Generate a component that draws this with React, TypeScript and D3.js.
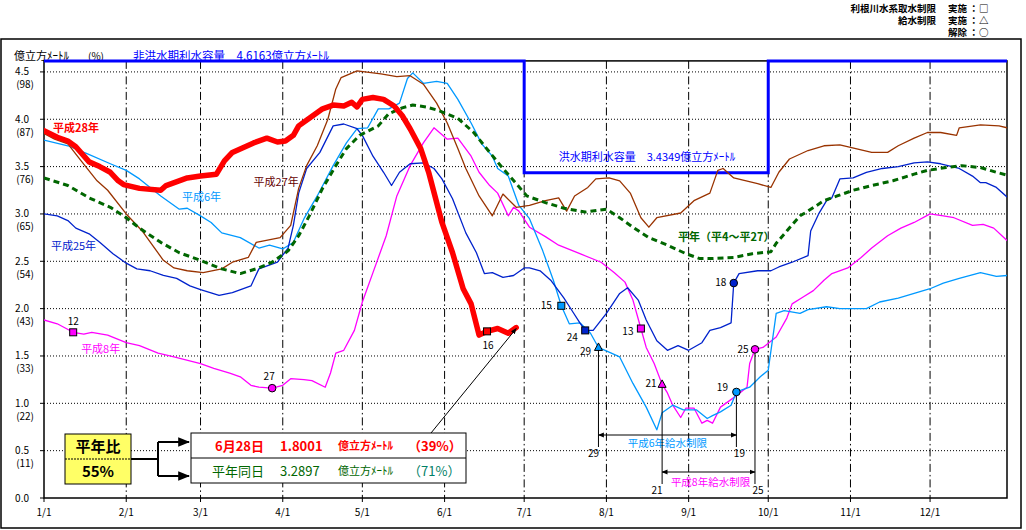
import * as d3 from "d3";

// ---- data (day index from 1/1, value in 億m3) ----
const monthLabels = ["1/1", "2/1", "3/1", "4/1", "5/1", "6/1", "7/1", "8/1", "9/1", "10/1", "11/1", "12/1"];
const monthStartDays = [0, 31, 59, 90, 120, 151, 181, 212, 243, 273, 304, 334];
const yTickValues = [0, 0.5, 1, 1.5, 2, 2.5, 3, 3.5, 4, 4.5];
const yTickPercents = ["", "(11)", "(22)", "(33)", "(43)", "(54)", "(65)", "(76)", "(87)", "(98)"];

const capacityDays = [0, 181, 181, 273, 273, 363];
const capacityValues = [4.6163, 4.6163, 3.4349, 3.4349, 4.6163, 4.6163];

const h28: [number, number][] = [
  [0, 3.88], [5, 3.81], [9, 3.77], [12, 3.71], [17, 3.55], [21, 3.5], [25, 3.44], [28, 3.35], [30, 3.31],
  [36, 3.27], [44, 3.25], [46, 3.3], [54, 3.38], [59, 3.4], [65, 3.42], [68, 3.56], [71, 3.65], [79, 3.75],
  [84, 3.8], [88, 3.76], [91, 3.77], [94, 3.83], [96, 3.93], [100, 4.01], [105, 4.11], [109, 4.15],
  [113, 4.14], [116, 4.18], [118, 4.13], [120, 4.21], [124, 4.23], [128, 4.21], [132, 4.14], [135, 4.04],
  [138, 3.9], [142, 3.69], [145, 3.44], [150, 2.91], [154, 2.59], [158, 2.21], [161, 2.05], [164, 1.72],
  [167, 1.76], [171, 1.79], [175, 1.74], [178, 1.8],
];

const h27: [number, number][] = [
  [0, 3.85], [4, 3.79], [9, 3.74], [14, 3.56], [20, 3.35], [24, 3.25], [31, 3.0], [37, 2.82], [45, 2.51],
  [49, 2.43], [54, 2.4], [60, 2.38], [67, 2.42], [71, 2.49], [77, 2.54], [80, 2.7], [89, 2.75], [93, 2.88],
  [96, 3.27], [99, 3.51], [103, 3.72], [107, 4.0], [110, 4.32], [112, 4.44], [118, 4.51], [127, 4.48],
  [133, 4.45], [138, 4.46], [143, 4.37], [148, 4.17], [152, 3.96], [156, 3.69], [159, 3.48], [164, 3.19],
  [169, 2.98], [173, 3.21], [178, 3.07], [183, 3.09], [189, 3.14], [194, 3.17], [197, 3.03], [200, 3.19],
  [205, 3.28], [208, 3.37], [213, 3.38], [217, 3.35], [221, 3.22], [225, 2.96], [228, 2.86], [231, 2.96],
  [240, 3.01], [245, 3.14], [251, 3.22], [254, 3.46], [256, 3.48], [260, 3.38], [269, 3.32], [274, 3.28],
  [277, 3.44], [281, 3.58], [288, 3.67], [294, 3.72], [300, 3.73], [306, 3.69], [312, 3.65], [318, 3.65],
  [322, 3.72], [328, 3.8], [333, 3.86], [338, 3.86], [344, 3.83], [345, 3.91], [353, 3.94], [360, 3.93],
  [363, 3.91],
];

const h6: [number, number][] = [
  [0, 3.78], [9, 3.72], [16, 3.64], [25, 3.53], [31, 3.46], [36, 3.37], [44, 3.19], [51, 3.05], [54, 3.06],
  [59, 2.98], [63, 2.91], [67, 2.8], [74, 2.75], [81, 2.64], [85, 2.67], [90, 2.63], [94, 2.7], [98, 2.95],
  [103, 3.19], [109, 3.51], [114, 3.75], [118, 3.9], [122, 3.91], [126, 4.11], [130, 4.11], [134, 4.17],
  [137, 4.43], [139, 4.49], [143, 4.38], [148, 4.4], [152, 4.38], [156, 4.21], [161, 3.96], [165, 3.74],
  [169, 3.61], [171, 3.48], [175, 3.4], [179, 3.09], [183, 2.95], [188, 2.61], [192, 2.3], [195, 2.03],
  [198, 1.84], [202, 1.85], [206, 1.74], [209, 1.59], [213, 1.54], [217, 1.49], [222, 1.21], [227, 0.96],
  [231, 0.72], [233, 0.9], [237, 0.98], [241, 0.93], [246, 0.93], [250, 0.84], [252, 0.87], [255, 0.91],
  [259, 0.98], [261, 1.12], [266, 1.17], [270, 1.28], [273, 1.35], [276, 1.95], [279, 1.98], [285, 1.95],
  [288, 1.99], [295, 2.02], [300, 2.0], [310, 2.0], [315, 2.07], [322, 2.11], [328, 2.16], [334, 2.21],
  [339, 2.27], [345, 2.32], [353, 2.38], [359, 2.34], [363, 2.35],
];

const h25: [number, number][] = [
  [0, 3.0], [5, 2.98], [9, 2.93], [12, 2.85], [17, 2.79], [21, 2.7], [26, 2.58], [31, 2.48], [35, 2.42],
  [40, 2.4], [45, 2.35], [50, 2.32], [55, 2.24], [59, 2.2], [66, 2.14], [71, 2.17], [78, 2.24], [81, 2.42],
  [88, 2.49], [92, 2.64], [94, 2.88], [96, 3.22], [99, 3.48], [104, 3.65], [109, 3.93], [113, 3.95],
  [118, 3.9], [120, 3.83], [124, 3.61], [128, 3.44], [131, 3.3], [134, 3.44], [138, 3.53], [143, 3.54],
  [147, 3.48], [150, 3.37], [154, 3.16], [159, 2.8], [163, 2.59], [166, 2.37], [169, 2.38], [173, 2.33],
  [177, 2.35], [181, 2.43], [183, 2.43], [187, 2.4], [191, 2.3], [196, 2.11], [199, 1.98], [202, 1.85],
  [204, 1.77], [207, 1.77], [212, 1.95], [217, 2.16], [220, 2.22], [224, 2.09], [227, 1.88], [231, 1.66],
  [235, 1.56], [239, 1.61], [243, 1.56], [248, 1.64], [251, 1.77], [255, 1.8], [259, 1.85], [260, 2.27],
  [262, 2.37], [269, 2.4], [274, 2.4], [277, 2.44], [282, 2.49], [288, 2.56], [289, 2.82], [292, 3.0],
  [295, 3.14], [297, 3.17], [300, 3.37], [305, 3.38], [310, 3.44], [316, 3.48], [322, 3.5], [328, 3.54],
  [333, 3.55], [338, 3.53], [345, 3.48], [350, 3.4], [353, 3.33], [355, 3.33], [359, 3.28], [363, 3.18],
];

const h8: [number, number][] = [
  [0, 1.88], [5, 1.84], [11, 1.75], [15, 1.73], [18, 1.75], [24, 1.72], [31, 1.64], [36, 1.61], [43, 1.53],
  [49, 1.49], [59, 1.42], [64, 1.37], [70, 1.32], [74, 1.28], [78, 1.19], [81, 1.17], [86, 1.16], [90, 1.19],
  [93, 1.26], [98, 1.25], [101, 1.24], [106, 1.17], [108, 1.32], [110, 1.53], [113, 1.56], [117, 1.77],
  [120, 2.07], [124, 2.38], [129, 2.77], [133, 3.19], [138, 3.51], [143, 3.75], [147, 3.91], [152, 3.79],
  [156, 3.8], [161, 3.61], [164, 3.44], [168, 3.3], [171, 3.22], [175, 2.98], [177, 3.07], [179, 3.03],
  [183, 2.86], [189, 2.76], [194, 2.67], [202, 2.58], [210, 2.49], [215, 2.38], [219, 2.28], [222, 2.09],
  [225, 1.79], [227, 1.59], [230, 1.42], [233, 1.2], [235, 1.11], [237, 0.98], [240, 0.85], [242, 0.95],
  [245, 0.95], [248, 0.79], [250, 0.82], [252, 0.79], [255, 0.96], [260, 1.06], [265, 1.17], [266, 1.42],
  [268, 1.57], [271, 1.59], [276, 1.7], [280, 1.9], [282, 2.05], [286, 2.12], [290, 2.19], [294, 2.3],
  [297, 2.37], [303, 2.43], [308, 2.54], [312, 2.64], [318, 2.77], [323, 2.85], [328, 2.91], [334, 3.0],
  [339, 2.98], [343, 2.96], [350, 2.88], [354, 2.89], [358, 2.85], [363, 2.72],
];

const normalYear: [number, number][] = [
  [0, 3.38], [9, 3.3], [17, 3.17], [25, 3.07], [31, 2.96], [36, 2.85], [44, 2.7], [51, 2.59], [59, 2.51],
  [67, 2.42], [74, 2.37], [80, 2.42], [86, 2.49], [92, 2.61], [96, 2.77], [100, 2.98], [105, 3.27],
  [110, 3.51], [114, 3.69], [119, 3.83], [126, 3.93], [130, 4.06], [135, 4.12], [139, 4.15], [144, 4.13],
  [149, 4.09], [156, 4.01], [162, 3.86], [168, 3.65], [173, 3.48], [178, 3.32], [182, 3.19], [189, 3.12],
  [196, 3.06], [204, 3.02], [212, 3.05], [217, 2.96], [222, 2.86], [228, 2.75], [235, 2.67], [242, 2.58],
  [247, 2.53], [252, 2.53], [260, 2.54], [267, 2.58], [274, 2.6], [276, 2.69], [280, 2.82], [285, 2.98],
  [288, 3.03], [294, 3.14], [299, 3.19], [305, 3.25], [312, 3.3], [320, 3.35], [328, 3.42], [333, 3.46],
  [340, 3.49], [346, 3.51], [353, 3.49], [359, 3.44], [363, 3.41],
];

// [series, day, kind, label]
const limitMarkers: [string, number, string, string][] = [
  ["h8", 11, "square", "12"],
  ["h8", 86, "circle", "27"],
  ["h28", 167, "square", "16"],
  ["h6", 195, "square", "15"],
  ["h25", 204, "square", "24"],
  ["h6", 209, "triangle", "29"],
  ["h8", 225, "square", "13"],
  ["h8", 233, "triangle", "21"],
  ["h25", 260, "circle", "18"],
  ["h6", 261, "circle", "19"],
  ["h8", 268, "circle", "25"],
];

const supplyLimits = [
  { name: "平成6年給水制限", series: "h6", start: 209, end: 261, startText: "29", endText: "19" },
  { name: "平成8年給水制限", series: "h8", start: 233, end: 268, startText: "21", endText: "25" },
];

// legend rows: [restriction, state, symbol]
const legendRows: [string, string, string][] = [
  ["利根川水系取水制限", "実施", "□"],
  ["給水制限", "実施", "△"],
  ["", "解除", "○"],
];

const FONT = "'Noto Sans CJK JP', 'Noto Sans', sans-serif";
const W = 1026;
const H = 530;

const x = d3.scaleLinear().domain([0, 363]).range([44, 1007]);
const y = d3.scaleLinear().domain([0, 4.6163]).range([498, 60.9]);

const seriesDefs = [
  { key: "h8", data: h8, color: "#ff00ff", width: 1.3, dash: "" },
  { key: "h6", data: h6, color: "#0099ff", width: 1.3, dash: "" },
  { key: "h25", data: h25, color: "#0022cc", width: 1.3, dash: "" },
  { key: "h27", data: h27, color: "#993300", width: 1.3, dash: "" },
  { key: "normal", data: normalYear, color: "#006600", width: 3, dash: "6,4" },
  { key: "h28", data: h28, color: "#ff0000", width: 5.5, dash: "" },
];

const seriesByKey: Record<string, [number, number][]> = { h8, h6, h25, h27, h28, normal: normalYear };
const colorByKey: Record<string, string> = {
  h8: "#ff00ff", h6: "#0099ff", h25: "#0022cc", h28: "#ff0000",
};

function valueAt(data: [number, number][], day: number) {
  for (let i = 1; i < data.length; i++) {
    if (data[i][0] >= day) {
      const [d0, v0] = data[i - 1];
      const [d1, v1] = data[i];
      return v0 + ((v1 - v0) * (day - d0)) / (d1 - d0 || 1);
    }
  }
  return data[data.length - 1][1];
}

// where the day number sits next to its marker
const markerLabelOffset: Record<string, [number, number]> = {
  "12": [0, -11], "27": [-3, -12], "16": [1, 14], "15": [-15, 0], "24": [-13, 7], "29": [-13, 4],
  "13": [-13, 3], "21": [-11, -1], "18": [-13, -1], "19": [-14, -4], "25": [-12, 0],
};

function Marker({ kind, cx, cy, fill }: { kind: string; cx: number; cy: number; fill: string }) {
  if (kind === "square") return <rect x={cx - 3.5} y={cy - 3.5} width={7} height={7} fill={fill} stroke="#000" strokeWidth={1} />;
  if (kind === "circle") return <circle cx={cx} cy={cy} r={3.8} fill={fill} stroke="#000" strokeWidth={1} />;
  return <path d={`M${cx},${cy - 4.5}L${cx + 4},${cy + 3}L${cx - 4},${cy + 3}Z`} fill={fill} stroke="#000" strokeWidth={1} />;
}

export default function App() {
  const line = d3.line<[number, number]>().x((d) => x(d[0])).y((d) => y(d[1]));
  const capacityPath = d3.line<number>().x((d) => x(d)).y((_, i) => y(capacityValues[i]))(capacityDays) || "";
  const left = x(0);
  const right = x(363);
  const top = y(4.6163);
  const bottom = y(0);
  const lastRed = h28[h28.length - 1];

  return (
    <div style={{ width: W, height: H }}>
      <style>{"body{margin:0;background:#fff}"}</style>
      <svg width={W} height={H} style={{ display: "block", fontFamily: FONT }}>
        <defs>
          <marker id="arrowEnd" viewBox="0 0 10 10" refX="9" refY="5" markerWidth="6" markerHeight="6" orient="auto-start-reverse">
            <path d="M0,1L10,5L0,9Z" fill="#000" />
          </marker>
          <clipPath id="plotClip">
            <rect x={left} y={top - 3} width={right - left} height={bottom - top + 3} />
          </clipPath>
        </defs>
        <rect width={W} height={H} fill="#fff" />
        <rect x={1} y={39} width={1020} height={489} fill="none" stroke="#000" strokeWidth={1.5} />

        {/* top-right legend */}
        <g fontSize={9.5} fontWeight={700} fill="#000">
          {legendRows.map(([what, state, sym], i) => (
            <g key={i}>
              <text x={936} y={12 + i * 12} textAnchor="end">{what}</text>
              <text x={948} y={12 + i * 12}>{state}</text>
              <text x={969} y={12 + i * 12}>：</text>
              <text x={979} y={12 + i * 12}>{sym}</text>
            </g>
          ))}
        </g>

        {/* headers */}
        <text x={14} y={60} fontSize={11} fill="#000">億立方ﾒｰﾄﾙ</text>
        <text x={88} y={60} fontSize={10} fill="#000">(%)</text>
        <text x={133} y={60} fontSize={11.5} fill="#0000ff">非洪水期利水容量　4.6163億立方ﾒｰﾄﾙ</text>

        {/* grid */}
        {yTickValues.slice(1).map((v) => (
          <line key={v} x1={left} x2={right} y1={y(v)} y2={y(v)} stroke="#000" strokeWidth={1} strokeDasharray="1,2" />
        ))}
        {monthStartDays.slice(1).map((d) => (
          <line key={d} x1={x(d)} x2={x(d)} y1={top} y2={bottom} stroke="#000" strokeWidth={1} strokeDasharray="8,3,1.5,3" />
        ))}

        {/* axes frame */}
        <rect x={left} y={top} width={right - left} height={bottom - top} fill="none" stroke="#000" strokeWidth={1.5} />

        {/* y labels */}
        {yTickValues.map((v, i) => (
          <g key={v}>
            <line x1={left - 4} x2={left} y1={y(v)} y2={y(v)} stroke="#000" />
            <text x={29} y={y(v)} dy="0.35em" fontSize={10} textAnchor="end">{v.toFixed(1)}</text>
            {yTickPercents[i] && (
              <text x={34} y={y(v) + 13} dy="0.35em" fontSize={10} textAnchor="end">{yTickPercents[i]}</text>
            )}
          </g>
        ))}

        {/* x labels */}
        {monthStartDays.map((d, i) => (
          <g key={d}>
            <line x1={x(d)} x2={x(d)} y1={bottom} y2={bottom + 4} stroke="#000" />
            <text x={x(d)} y={516} fontSize={10} textAnchor="middle">{monthLabels[i]}</text>
          </g>
        ))}

        {/* storage capacity */}
        <path d={capacityPath} fill="none" stroke="#0000ff" strokeWidth={3} />
        <text x={x(194)} y={y(3.6)} dy="0.35em" fontSize={11} fill="#0000ff">洪水期利水容量　3.4349億立方ﾒｰﾄﾙ</text>

        {/* series */}
        <g clipPath="url(#plotClip)">
          {seriesDefs.map((s) => (
            <path key={s.key} d={line(s.data) || ""} fill="none" stroke={s.color} strokeWidth={s.width}
              strokeDasharray={s.dash || undefined} strokeLinejoin="round" strokeLinecap={s.dash ? "butt" : "round"} />
          ))}
        </g>

        {/* series labels */}
        <g fontSize={11}>
          <text x={x(3.4)} y={y(3.91)} dy="0.35em" fill="#ff0000" fontWeight={700}>平成28年</text>
          <text x={x(79)} y={y(3.34)} dy="0.35em" fill="#660000">平成27年</text>
          <text x={x(52)} y={y(3.18)} dy="0.35em" fill="#0099ff">平成6年</text>
          <text x={x(2.6)} y={y(2.66)} dy="0.35em" fill="#0022cc">平成25年</text>
          <text x={x(14)} y={y(1.57)} dy="0.35em" fill="#ff00ff">平成8年</text>
          <text x={x(239)} y={y(2.75)} dy="0.35em" fill="#006600" fontWeight={700}>平年（平4～平27）</text>
        </g>

        {/* supply restriction periods */}
        {supplyLimits.map((p, i) => {
          const data = seriesByKey[p.series];
          const ay = [435, 472][i];
          const xs = x(p.start);
          const xe = x(p.end);
          const color = colorByKey[p.series];
          return (
            <g key={p.name}>
              <line x1={xs} x2={xs} y1={y(valueAt(data, p.start))} y2={ay + 12} stroke="#000" />
              <line x1={xe} x2={xe} y1={y(valueAt(data, p.end))} y2={ay + 12} stroke="#000" />
              <line x1={xs} x2={xe} y1={ay} y2={ay} stroke="#000" markerStart="url(#arrowEnd)" markerEnd="url(#arrowEnd)" />
              <text x={(xs + xe) / 2 + [0, 2][i]} y={ay + [8, 10][i]} dy="0.35em" fontSize={10.5} textAnchor="middle" fill={color}>{p.name}</text>
              <text x={xs - 5} y={ay + 18} dy="0.35em" fontSize={10} textAnchor="middle">{p.startText}</text>
              <text x={xe + 3} y={ay + 18} dy="0.35em" fontSize={10} textAnchor="middle">{p.endText}</text>
            </g>
          );
        })}

        {/* restriction markers */}
        {limitMarkers.map(([key, day, kind, label]) => {
          const cx = x(day);
          const cy = y(valueAt(seriesByKey[key], day));
          const [dx, dy] = markerLabelOffset[label];
          return (
            <g key={key + day}>
              <Marker kind={kind} cx={cx} cy={cy} fill={colorByKey[key]} />
              <text x={cx + dx} y={cy + dy} dy="0.35em" fontSize={10} textAnchor="middle">{label}</text>
            </g>
          );
        })}

        {/* leader to latest value */}
        <line x1={431} y1={433} x2={x(lastRed[0])} y2={y(lastRed[1]) + 1} stroke="#000" strokeWidth={1} markerEnd="url(#arrowEnd)" />

        {/* ratio box */}
        <rect x={65} y={434} width={66} height={50} fill="#ffff66" stroke="#000" strokeWidth={1} />
        <line x1={65} x2={131} y1={459} y2={459} stroke="#000" strokeDasharray="2,1" />
        <text x={98} y={447} dy="0.35em" fontSize={15} fontWeight={700} textAnchor="middle">平年比</text>
        <text x={98} y={472} dy="0.35em" fontSize={15} fontWeight={700} textAnchor="middle">55%</text>
        <path d="M131,459H158M158,442V476" stroke="#000" strokeWidth={2} fill="none" />
        <line x1={158} x2={189} y1={442} y2={442} stroke="#000" strokeWidth={2} markerEnd="url(#arrowEnd)" />
        <line x1={158} x2={189} y1={476} y2={476} stroke="#000" strokeWidth={2} markerEnd="url(#arrowEnd)" />

        <rect x={191} y={433} width={275} height={50} fill="#fff" stroke="#000" strokeWidth={1} />
        <line x1={191} x2={466} y1={458} y2={458} stroke="#000" />
        <g fill="#ff0000" fontWeight={700}>
          <text x={215} y={446} dy="0.35em" fontSize={13}>6月28日</text>
          <text x={280} y={446} dy="0.35em" fontSize={13}>1.8001</text>
          <text x={338} y={446} dy="0.35em" fontSize={11}>億立方ﾒｰﾄﾙ</text>
          <text x={408} y={446} dy="0.35em" fontSize={13}>（39%）</text>
        </g>
        <g fill="#006600">
          <text x={212} y={471} dy="0.35em" fontSize={13}>平年同日</text>
          <text x={280} y={471} dy="0.35em" fontSize={13}>3.2897</text>
          <text x={338} y={471} dy="0.35em" fontSize={11}>億立方ﾒｰﾄﾙ</text>
          <text x={408} y={471} dy="0.35em" fontSize={13} fill="#008066">（71%）</text>
        </g>
      </svg>
    </div>
  );
}
